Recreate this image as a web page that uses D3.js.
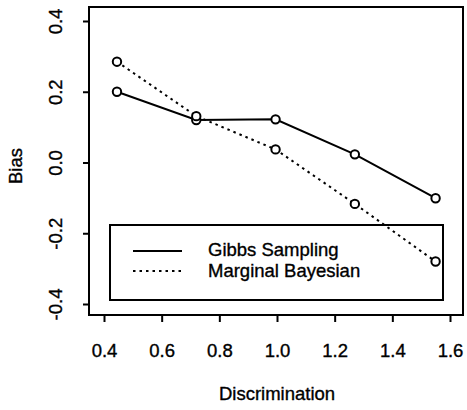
<!DOCTYPE html>
<html>
<head>
<meta charset="utf-8">
<script src="https://cdn.jsdelivr.net/npm/d3@7"></script>
<style>
  html, body { margin: 0; padding: 0; background: #fff; }
  svg text {
    font-family: "Liberation Sans", Arial, Helvetica, sans-serif;
    fill: #000; stroke: #000; stroke-width: 0.35px;
  }
</style>
</head>
<body>
<svg id="chart" width="467" height="410"></svg>
<script>
// Discrimination values at which bias was estimated
const discrimination = [0.445, 0.72, 0.995, 1.27, 1.55];
// Bias of each estimation method
const gibbsBias = [0.200, 0.120, 0.122, 0.023, -0.101];
const marginalBias = [0.285, 0.131, 0.037, -0.117, -0.280];

const xTicks = [0.4, 0.6, 0.8, 1.0, 1.2, 1.4, 1.6];
const yTicks = [-0.4, -0.2, 0.0, 0.2, 0.4];
const seriesNames = ["Gibbs Sampling", "Marginal Bayesian"];

const svg = d3.select("#chart");
const fontSize = 18.5;

// Plot region frame
const frame = { left: 89, top: 7, right: 463, bottom: 315 };

const x = d3.scaleLinear().domain([0.4, 1.6]).range([104, 450]);
const y = d3.scaleLinear().domain([-0.4, 0.4]).range([304, 21]);

// One decimal, plain hyphen for negatives
const fmt = d => d.toFixed(1);

// Box around the plot
svg.append("rect")
  .attr("x", frame.left).attr("y", frame.top)
  .attr("width", frame.right - frame.left)
  .attr("height", frame.bottom - frame.top)
  .attr("fill", "none").attr("stroke", "#000").attr("stroke-width", 2);

// X axis
const xAxis = svg.append("g")
  .attr("transform", `translate(0,${frame.bottom})`)
  .call(d3.axisBottom(x).tickValues(xTicks).tickSize(7).tickFormat(fmt));
xAxis.select(".domain").remove();
xAxis.selectAll(".tick line").attr("stroke", "#000").attr("stroke-width", 2);
xAxis.selectAll(".tick text")
  .attr("y", 0).attr("dy", 0)
  .attr("transform", "translate(0,42)")
  .style("font-size", fontSize + "px");

// Y axis with rotated labels
const yAxis = svg.append("g")
  .attr("transform", `translate(${frame.left},0)`)
  .call(d3.axisLeft(y).tickValues(yTicks).tickSize(6).tickFormat(fmt));
yAxis.select(".domain").remove();
yAxis.selectAll(".tick line").attr("stroke", "#000").attr("stroke-width", 2);
yAxis.selectAll(".tick text")
  .attr("x", 0).attr("y", 0).attr("dy", 0)
  .attr("text-anchor", "middle")
  .attr("transform", "translate(-27,0) rotate(-90)")
  .style("font-size", fontSize + "px");

// Axis titles
svg.append("text")
  .attr("x", 277).attr("y", 400)
  .attr("text-anchor", "middle")
  .style("font-size", fontSize + "px")
  .text("Discrimination");

svg.append("text")
  .attr("transform", "translate(22,166) rotate(-90)")
  .attr("text-anchor", "middle")
  .style("font-size", fontSize + "px")
  .text("Bias");

// Series
const series = [
  { name: seriesNames[0], values: gibbsBias, dash: null },
  { name: seriesNames[1], values: marginalBias, dash: "2.5,4" }
];

const line = d3.line()
  .x(d => x(d[0]))
  .y(d => y(d[1]));

series.forEach(s => {
  const pts = discrimination.map((d, i) => [d, s.values[i]]);
  svg.append("path")
    .datum(pts)
    .attr("d", line)
    .attr("fill", "none")
    .attr("stroke", "#000")
    .attr("stroke-width", 2)
    .attr("stroke-dasharray", s.dash);
  svg.append("g").selectAll("circle")
    .data(pts)
    .join("circle")
    .attr("cx", d => x(d[0]))
    .attr("cy", d => y(d[1]))
    .attr("r", 4.2)
    .attr("fill", "#fff")
    .attr("stroke", "#000")
    .attr("stroke-width", 2);
});

// Legend
const legend = svg.append("g");
legend.append("rect")
  .attr("x", 110).attr("y", 225)
  .attr("width", 333).attr("height", 75)
  .attr("fill", "none").attr("stroke", "#000").attr("stroke-width", 2);

series.forEach((s, i) => {
  const ly = 251 + i * 20;
  legend.append("line")
    .attr("x1", 133).attr("x2", 182)
    .attr("y1", ly).attr("y2", ly)
    .attr("stroke", "#000").attr("stroke-width", 2)
    .attr("stroke-dasharray", s.dash);
  legend.append("text")
    .attr("x", 208).attr("y", ly + 5 + i * 1)
    .style("font-size", fontSize + "px")
    .text(s.name);
});
</script>
</body>
</html>
